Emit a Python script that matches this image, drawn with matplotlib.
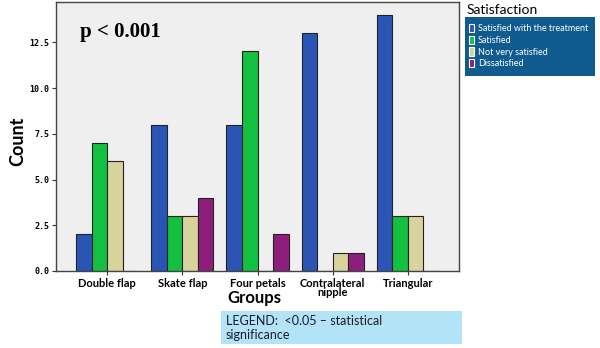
import matplotlib
matplotlib.use("Agg")
import matplotlib.pyplot as plt
import numpy as np
from matplotlib.patches import Rectangle

groups = ["Double flap", "Skate flap", "Four petals", "Contralateral\nnipple", "Triangular"]
series = ["Satisfied with the treatment", "Satisfied", "Not very satisfied", "Dissatisfied"]
satisfied_treatment = [2, 8, 8, 13, 14]
satisfied = [7, 3, 12, 0, 3]
not_very_satisfied = [6, 3, 0, 1, 3]
dissatisfied = [0, 4, 2, 1, 0]
yticks = [0.0, 2.5, 5.0, 7.5, 10.0, 12.5]
colors = ["#2b55b5", "#14c040", "#d8d29c", "#8e1e7c"]

values = [satisfied_treatment, satisfied, not_very_satisfied, dissatisfied]

fig = plt.figure(figsize=(6, 3.48), dpi=100)
ax = fig.add_axes([56/600, 1-271/348, (459-56)/600, (271-2)/348])
ax.set_facecolor("#efefef")

x = np.arange(len(groups))
w = 0.207
handles = []
for i, (vals, c, name) in enumerate(zip(values, colors, series)):
    offs = (i - 1.5) * w
    h = ax.bar(x + offs, vals, width=w, color=c, edgecolor="#222222", linewidth=0.8, label=name)
    handles.append(h)

ax.set_xlim(-0.68, 4.68)
ax.set_ylim(0, 14.7)
ax.set_yticks(yticks)
ax.set_yticklabels([f"{t:.1f}" for t in yticks], fontsize=6, fontweight="bold", family="DejaVu Sans Mono")
ax.set_xticks(x)
ax.set_xticklabels(groups, fontsize=8, fontweight="bold", family="Lato", linespacing=0.8)
ax.tick_params(axis="both", length=3, width=0.8, color="#333333", pad=2)
for s in ax.spines.values():
    s.set_color("#444444")
    s.set_linewidth(1.0)

fig.text(18/600, 1-141/348, "Count", rotation=90, ha="center", va="center", fontsize=13,
         fontweight="bold", family="Lato")
fig.text(254/600, 1-298/348, "Groups", ha="center", va="center", fontsize=12,
         fontweight="bold", family="Lato")
ax.text(80/600, 1-32/348, "p < 0.001", transform=fig.transFigure, ha="left", va="center",
        fontsize=15, fontweight="bold", family="Liberation Serif")

# legend
fig.text(467/600, 1-10/348, "Satisfaction", ha="left", va="center", fontsize=10, family="Lato")
fig.patches.append(Rectangle((465/600, 1-76/348), 130/600, 59/348, transform=fig.transFigure,
                             facecolor="#0f5b8f", edgecolor="none", zorder=0))
leg = fig.legend(handles=handles, labels=series, loc="upper left",
                 bbox_to_anchor=(467/600, 1-22/348), frameon=False,
                 labelcolor="white", handlelength=0.6, handleheight=1.0, handletextpad=0.4,
                 labelspacing=0.3, borderaxespad=0, borderpad=0.2, prop={"family": "Lato", "size": 6.5})
for p in leg.get_patches():
    p.set_edgecolor("white")
    p.set_linewidth(0.8)

# bottom box
fig.patches.append(Rectangle((221/600, 1-344/348), 241/600, 33/348, transform=fig.transFigure,
                             facecolor="#b3e3f7", edgecolor="none", zorder=0))
fig.text(226/600, 1-328/348, "LEGEND:  <0.05 – statistical\nsignificance", ha="left", va="center",
         fontsize=9, family="Lato", color="#1a1a2a", linespacing=1.2)

fig.savefig("out.png", dpi=100)
